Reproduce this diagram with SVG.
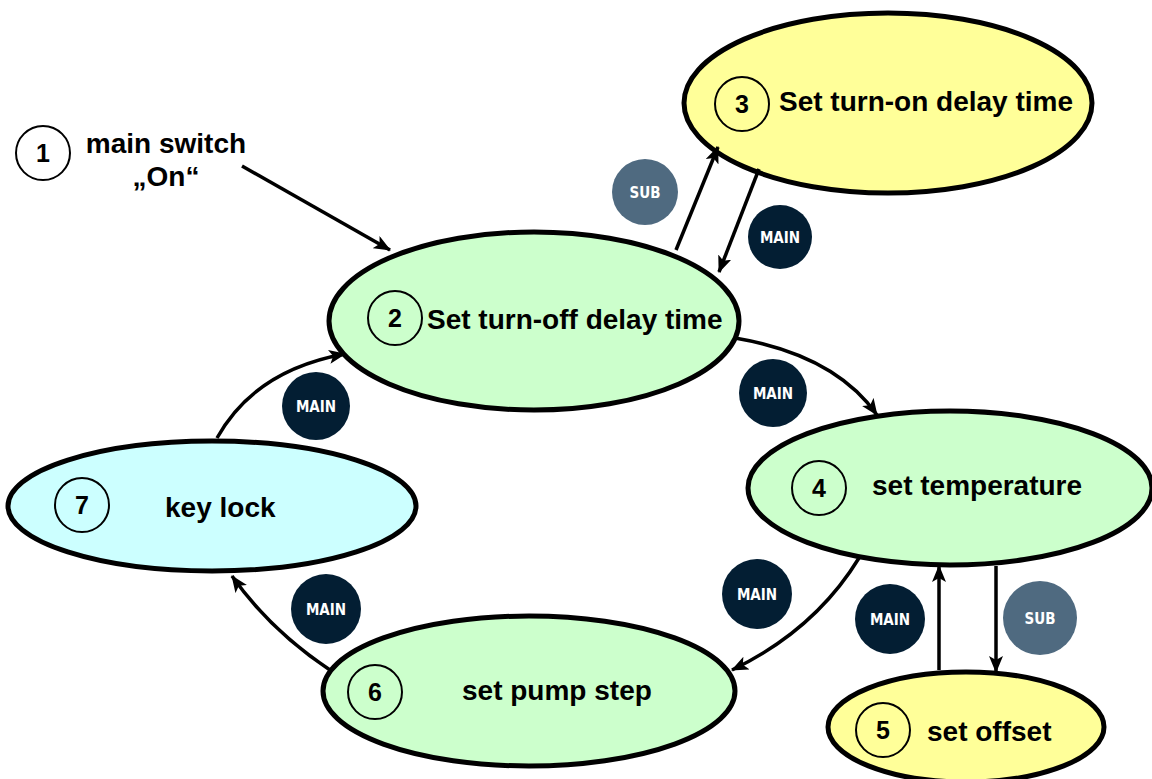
<svg xmlns="http://www.w3.org/2000/svg" width="1152" height="779" viewBox="0 0 1152 779">
<style>
.node{stroke:#000;stroke-width:5}
.green{fill:#ccffcc}
.yellow{fill:#ffff99}
.cyan{fill:#ccffff}
.num{fill:none;stroke:#000;stroke-width:2}
.numt{font-family:"Liberation Sans",Arial,sans-serif;font-weight:bold;font-size:25px;text-anchor:middle;fill:#000}
.lbl{font-family:"Liberation Sans",Arial,sans-serif;font-weight:bold;font-size:28px;fill:#000}
.conn{fill:none;stroke:#000;stroke-width:3.5;marker-end:url(#arr)}
.main{fill:#031e33}
.sub{fill:#4f6a80}
.bt{font-family:"DejaVu Sans Condensed","DejaVu Sans",Verdana,sans-serif;font-weight:bold;font-size:15px;fill:#fff;text-anchor:middle}
</style>
<defs>
<marker id="arr" markerUnits="userSpaceOnUse" markerWidth="18" markerHeight="14" refX="16" refY="7" orient="auto">
<path d="M0,0 L17,7 L0,14 L4,7 z" fill="#000"/>
</marker>
</defs>
<rect width="1152" height="779" fill="#fff"/>
<g id="node1">
<circle class="num" cx="43" cy="153" r="27"/>
<text class="numt" x="43" y="162">1</text>
<text class="lbl" x="166" y="153" text-anchor="middle">main switch</text>
<text class="lbl" x="166" y="186" text-anchor="middle">„On“</text>
</g>
<g id="node2">
<ellipse class="node green" cx="534" cy="321" rx="205" ry="89"/>
<circle class="num" cx="395" cy="318" r="27"/>
<text class="numt" x="395" y="327">2</text>
<text class="lbl" x="427" y="329">Set turn-off delay time</text>
</g>
<g id="node3">
<ellipse class="node yellow" cx="888" cy="103" rx="204" ry="90"/>
<circle class="num" cx="742" cy="104" r="27"/>
<text class="numt" x="742" y="113">3</text>
<text class="lbl" x="779" y="111">Set turn-on delay time</text>
</g>
<g id="node4">
<ellipse class="node green" cx="950" cy="488" rx="202" ry="77"/>
<circle class="num" cx="819" cy="488" r="27"/>
<text class="numt" x="819" y="497">4</text>
<text class="lbl" x="872" y="495">set temperature</text>
</g>
<g id="node5">
<ellipse class="node yellow" cx="966" cy="727" rx="138" ry="55"/>
<circle class="num" cx="883" cy="730" r="27"/>
<text class="numt" x="883" y="739">5</text>
<text class="lbl" x="927" y="741">set offset</text>
</g>
<g id="node6">
<ellipse class="node green" cx="529" cy="691" rx="206" ry="75"/>
<circle class="num" cx="375" cy="692" r="27"/>
<text class="numt" x="375" y="701">6</text>
<text class="lbl" x="462" y="700">set pump step</text>
</g>
<g id="node7">
<ellipse class="node cyan" cx="212" cy="506" rx="204" ry="65"/>
<circle class="num" cx="82" cy="505" r="27"/>
<text class="numt" x="82" y="514">7</text>
<text class="lbl" x="165" y="517">key lock</text>
</g>
<g id="badges">
<circle class="sub" cx="645" cy="192" r="33"/><text class="bt" x="645" y="198">SUB</text>
<circle class="main" cx="780" cy="237" r="32"/><text class="bt" x="780" y="243">MAIN</text>
<circle class="main" cx="773" cy="393" r="34"/><text class="bt" x="773" y="399">MAIN</text>
<circle class="main" cx="316" cy="406" r="34"/><text class="bt" x="316" y="412">MAIN</text>
<circle class="main" cx="757" cy="594" r="35"/><text class="bt" x="757" y="600">MAIN</text>
<circle class="main" cx="890" cy="619" r="35"/><text class="bt" x="890" y="625">MAIN</text>
<circle class="sub" cx="1040" cy="618" r="37"/><text class="bt" x="1040" y="624">SUB</text>
<circle class="main" cx="326" cy="609" r="35"/><text class="bt" x="326" y="615">MAIN</text>
</g>
<g id="connectors">
<path class="conn" d="M242,166 L390,250"/>
<path class="conn" d="M676,250 L718,147"/>
<path class="conn" d="M759,169 L719,272"/>
<path class="conn" d="M735,338 Q835,355 877,415"/>
<path class="conn" d="M859,558 Q815,630 732,670"/>
<path class="conn" d="M330,670 Q270,630 232,576"/>
<path class="conn" d="M217,438 Q255,370 345,354"/>
<path class="conn" d="M939,670 L939,566"/>
<path class="conn" d="M996,566 L996,672"/>
</g>
</svg>
